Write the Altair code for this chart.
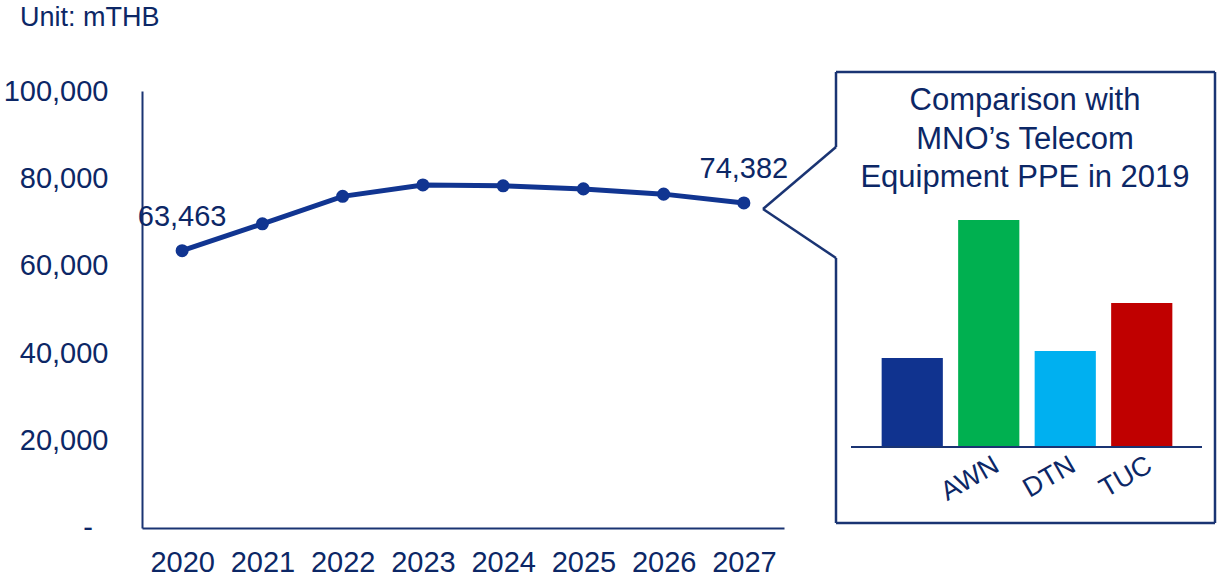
import altair as alt
import pandas as pd

# ---- data ----
years = ["2020", "2021", "2022", "2023", "2024", "2025", "2026", "2027"]
ppe_values = [63463, 69600, 75900, 78500, 78300, 77600, 76400, 74382]
y_ticks = [0, 20000, 40000, 60000, 80000, 100000]

mno_names = ["MNO", "AWN", "DTN", "TUC"]
mno_ppe = [89, 227, 96, 144]  # relative size
mno_colors = ["#10338f", "#00b050", "#00b0f0", "#c00000"]
mno_shown_labels = ["", "AWN", "DTN", "TUC"]

box_title = ["Comparison with", "MNO\u2019s Telecom", "Equipment PPE in 2019"]
unit_text = "Unit: mTHB"
zero_label = "-"

FONT = "Liberation Sans"
NAVY_TEXT = "#0c2766"
LINE_COL = "#113591"
AXIS_COL = "#1a3473"

line_df = pd.DataFrame({"year": years, "value": ppe_values})
bar_df = pd.DataFrame({"mno": mno_names, "ppe": mno_ppe, "label": mno_shown_labels})
one_row = pd.DataFrame({"k": [0]})

# ---- main line chart ----
x_enc = alt.X(
    "year:O",
    scale=alt.Scale(type="point", padding=0.5),
    axis=alt.Axis(
        title=None, labelAngle=0, ticks=False, labelPadding=20,
        labelFontSize=29, labelColor=NAVY_TEXT, labelFont=FONT,
        domainColor=AXIS_COL, domainWidth=2, grid=False,
    ),
)
y_enc = alt.Y(
    "value:Q",
    scale=alt.Scale(domain=[0, 100000], nice=False),
    axis=alt.Axis(
        title=None, values=y_ticks, ticks=False, grid=False,
        labelPadding=34, labelFontSize=29, labelColor=NAVY_TEXT, labelFont=FONT,
        labelExpr="datum.value == 0 ? '' : format(datum.value, ',')",
        domainColor=AXIS_COL, domainWidth=2,
    ),
)

base_line = alt.Chart(line_df)
line = base_line.mark_line(color=LINE_COL, strokeWidth=5).encode(x=x_enc, y=y_enc)
pts = base_line.mark_point(filled=True, color=LINE_COL, size=170, opacity=1).encode(x=x_enc, y=y_enc)
lbls = base_line.transform_filter(
    "datum.year == '2020' || datum.year == '2027'"
).mark_text(font=FONT, fontSize=29, color=NAVY_TEXT, baseline="middle", dy=-34).encode(
    x=x_enc, y=y_enc, text=alt.Text("value:Q", format=",")
)
line_group = alt.layer(line, pts, lbls)

# ---- inset bar chart ----
bx = alt.X(
    "mno:N", sort=mno_names,
    scale=alt.Scale(range=[732, 1038], paddingInner=0.2, paddingOuter=0.1),
    axis=None,
)
by = alt.Y("ppe:Q", scale=alt.Scale(domain=[0, 240], range=[356, 116], nice=False), axis=None)
base_bar = alt.Chart(bar_df)
bars = base_bar.mark_bar().encode(
    x=bx, y=by,
    color=alt.Color("mno:N", sort=mno_names,
                    scale=alt.Scale(domain=mno_names, range=mno_colors), legend=None),
)
bar_lbls = base_bar.mark_text(
    font=FONT, fontSize=27, color=NAVY_TEXT, angle=330, align="right",
    baseline="top", dx=2,
).encode(x=bx, y=alt.value(362), text="label:N")
bar_group = alt.layer(bars, bar_lbls)

# ---- decorations (callout box, baseline, titles) ----
def seg(x1, y1, x2, y2, w=2.5):
    return alt.Chart(one_row).mark_rule(color=AXIS_COL, strokeWidth=w).encode(
        x=alt.value(x1), y=alt.value(y1), x2=alt.value(x2), y2=alt.value(y2)
    )

decor = [
    seg(694, -19, 1073, -19),
    seg(1073, -19, 1073, 432),
    seg(694, 432, 1073, 432),
    seg(694, -19, 694, 56),
    seg(694, 167, 694, 432),
    seg(694, 56, 621, 118),
    seg(621, 118, 694, 167),
    seg(709, 356, 1060, 356, 2),
]

box_title_mark = alt.Chart(one_row).mark_text(
    font=FONT, fontSize=31, color=NAVY_TEXT, align="center", baseline="middle",
    lineHeight=38.5,
).encode(x=alt.value(883), y=alt.value(10), text=alt.value(box_title))

unit_mark = alt.Chart(one_row).mark_text(
    font=FONT, fontSize=27, color=NAVY_TEXT, align="left", baseline="middle",
).encode(x=alt.value(-122), y=alt.value(-73), text=alt.value(unit_text))

zero_mark = alt.Chart(one_row).mark_text(
    font=FONT, fontSize=29, color=NAVY_TEXT, align="center", baseline="middle",
).encode(x=alt.value(-54), y=alt.value(437), text=alt.value(zero_label))

chart = alt.layer(
    line_group, bar_group, *decor, box_title_mark, unit_mark, zero_mark
).resolve_scale(
    x="independent", y="independent", color="independent"
).properties(
    width=642, height=437,
    padding={"left": 142, "top": 91, "right": 433, "bottom": 49},
    autosize=alt.AutoSizeParams(type="none"),
    background="white",
).configure_view(stroke=None)

chart.save("out.html", embed_options={"renderer": "svg", "actions": False})
